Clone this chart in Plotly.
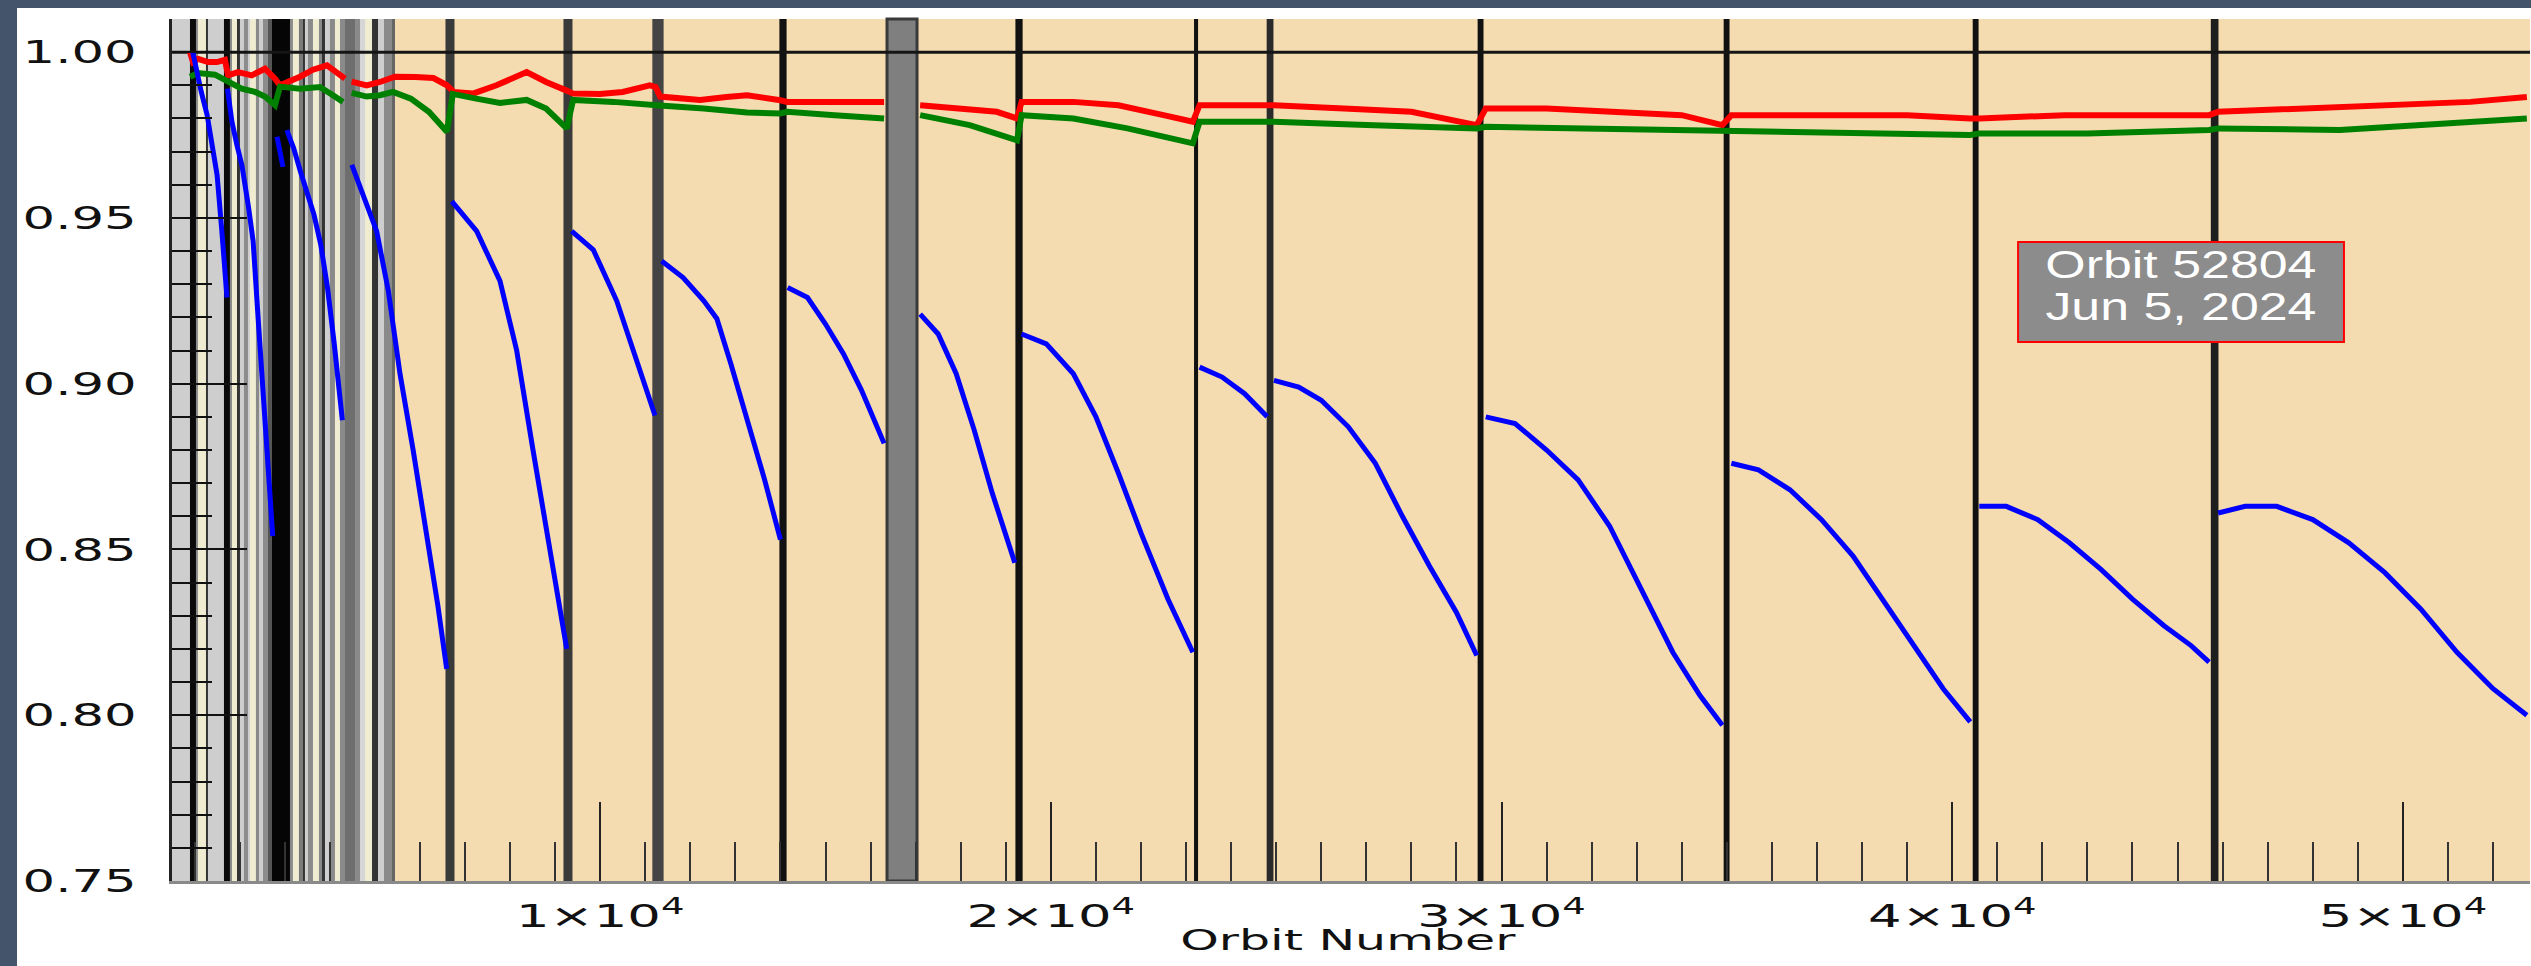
import plotly.graph_objects as go

# ---------------- data ----------------
red_orbit = [900, 965, 1076, 1300, 1500, 1675, 1742, 1964, 2268, 2563, 2785, 2896,
             3340, 3628, 3939, 4228, 4339, None, 4486, 4819, 5115, 5448, 5900, 6300,
             6600, 6750, 7177, 7700, 8370, 8800, 9258, 9400, 9990, 10500, 11100, 11230,
             11330, 12218, 12800, 13260, 14000, 14150, 15000, 15800, 16300, None,
             17100, 18000, 18800, 19250, 19350, 20500, 21500, 22500, 23150, 23300,
             24100, 24800, 24950, 26500, 28000, 29450, 29650, 31000, 32500, 34000,
             34900, 35100, 37000, 39000, 40400, 40600, 42500, 44500, 45700, 45900,
             48000, 50000, 51500, 52750]
red_value = [1.000, 0.997, 0.998, 0.997, 0.997, 0.9977, 0.993, 0.994, 0.993, 0.995, 0.992, 0.990,
             0.9926, 0.9947, 0.996, 0.9932, 0.992, None, 0.9911, 0.990, 0.991, 0.9926, 0.9925, 0.9922,
             0.990, 0.988, 0.9875, 0.990, 0.994, 0.991, 0.9884, 0.9875, 0.9874, 0.988, 0.990, 0.9895,
             0.9866, 0.9856, 0.9865, 0.987, 0.9855, 0.985, 0.985, 0.9852, 0.985, None,
             0.984, 0.983, 0.982, 0.980, 0.985, 0.985, 0.984, 0.981, 0.979, 0.984,
             0.984, 0.984, 0.984, 0.983, 0.982, 0.978, 0.983, 0.983, 0.982, 0.981,
             0.978, 0.981, 0.981, 0.981, 0.980, 0.980, 0.981, 0.981, 0.981, 0.982,
             0.983, 0.984, 0.985, 0.9865]

green_orbit = [900, 1076, 1453, 1742, 2046, 2341, 2563, 2785, 2896, 3340, 3783, 4072,
               4294, None, 4486, 4819, 5115, 5404, 5800, 6200, 6600, 6730, 7250, 7777,
               8370, 8800, 9258, 9400, 10300, 11170, 11400, 12300, 13260, 14000, 14150,
               15200, 16300, None, 17100, 18200, 19250, 19350, 20500, 21700, 23150,
               23300, 24800, 24950, 27000, 29450, 29650, 32000, 34900, 35100, 38000,
               40400, 40600, 43000, 45700, 45900, 48600, 50500, 52750]
green_value = [0.9926, 0.9937, 0.9932, 0.991, 0.989, 0.988, 0.9866, 0.984, 0.9896, 0.989, 0.9895, 0.987,
               0.985, None, 0.9877, 0.9866, 0.987, 0.988, 0.986, 0.982, 0.976, 0.9874, 0.986, 0.9847,
               0.9856, 0.983, 0.977, 0.9856, 0.985, 0.9838, 0.9838, 0.983, 0.9818, 0.9815, 0.982,
               0.981, 0.980, None, 0.981, 0.978, 0.9734, 0.981, 0.980, 0.977, 0.9725,
               0.979, 0.979, 0.979, 0.978, 0.977, 0.9775, 0.977, 0.976, 0.976, 0.9755,
               0.975, 0.9755, 0.9755, 0.9765, 0.977, 0.9765, 0.978, 0.980]

blue_orbit = [960, 1050, 1150, 1280, 1400, 1500, 1600, 1720, None,
              1730, 1830, 1940, 2050, 2200, 2300, 2400, 2550, 2735, None,
              2830, 2963, None,
              3047, 3200, 3350, 3500, 3650, 3800, 3950, 4100, 4280, None,
              4490, 4700, 5041, 5300, 5559, 5850, 6151, 6400, 6595, None,
              6710, 7260, 7777, 8148, 8510, 8887, 9258, None,
              9368, 9848, 10367, 10730, 11217, None,
              11365, 11840, 12300, 12590, 12900, 13250, 13650, 14000, None,
              14160, 14600, 15000, 15400, 15800, 16300, None,
              17100, 17500, 17900, 18300, 18700, 19200, None,
              19350, 19900, 20500, 21000, 21500, 22000, 22600, 23150, None,
              23300, 23800, 24300, 24800, None,
              24950, 25500, 26000, 26600, 27200, 27800, 28400, 29000, 29450, None,
              29650, 30300, 31000, 31700, 32400, 33100, 33800, 34400, 34900, None,
              35100, 35700, 36400, 37100, 37800, 38500, 39200, 39800, 40400, None,
              40600, 41200, 41900, 42600, 43300, 44000, 44700, 45300, 45700, None,
              45900, 46500, 47200, 48000, 48800, 49600, 50400, 51200, 52000, 52750]
blue_value = [1.000, 0.994, 0.988, 0.981, 0.972, 0.963, 0.947, 0.926, None,
              0.989, 0.979, 0.972, 0.966, 0.953, 0.943, 0.922, 0.892, 0.854, None,
              0.9745, 0.9654, None,
              0.9765, 0.971, 0.964, 0.958, 0.951, 0.942, 0.929, 0.912, 0.889, None,
              0.966, 0.958, 0.946, 0.928, 0.903, 0.880, 0.8555, 0.833, 0.814, None,
              0.955, 0.946, 0.931, 0.910, 0.880, 0.850, 0.820, None,
              0.946, 0.9404, 0.925, 0.910, 0.8904, None,
              0.937, 0.932, 0.925, 0.9196, 0.906, 0.890, 0.871, 0.853, None,
              0.929, 0.926, 0.918, 0.909, 0.898, 0.882, None,
              0.921, 0.915, 0.903, 0.886, 0.867, 0.846, None,
              0.915, 0.912, 0.903, 0.890, 0.873, 0.855, 0.835, 0.819, None,
              0.905, 0.902, 0.897, 0.890, None,
              0.901, 0.899, 0.895, 0.887, 0.876, 0.860, 0.845, 0.831, 0.818, None,
              0.890, 0.888, 0.880, 0.871, 0.857, 0.838, 0.819, 0.806, 0.797, None,
              0.876, 0.874, 0.868, 0.859, 0.848, 0.834, 0.820, 0.808, 0.798, None,
              0.863, 0.863, 0.859, 0.852, 0.844, 0.835, 0.827, 0.821, 0.816, None,
              0.861, 0.863, 0.863, 0.859, 0.852, 0.843, 0.832, 0.819, 0.808, 0.800]

# event markers (orbit numbers)
anneal_orbits = [6668, 9286, 11283, 14057, 19294, 23222, 24864, 29535, 34994, 40520, 45823]
safehold_start = [16365]
safehold_end = [17031]

# early-mission shaded intervals (orbit start, orbit end)
early_start = [500, 899, 1032, 1076, 1254, 1653, 1786, 1831, 1942, 2097, 2230, 2363, 2519, 2630,
               2718, 3118, 3184, 3317, 3406, 3517, 3628, 3761, 3828, 4005, 4116, 4228, 4339,
               4561, 4672, 4783, 4938, 5204, 5381]
early_end = [5448, 1032, 1076, 1254, 1298, 1786, 1831, 1942, 2008, 2186, 2363, 2430, 2630, 2718,
             3118, 3184, 3317, 3406, 3450, 3628, 3761, 3828, 3894, 4116, 4228, 4339, 4561,
             4672, 4783, 4938, 5071, 5381, 5448]

x_tickvals = [10000, 20000, 30000, 40000, 50000]
x_ticktext = ["1×10<sup>4</sup>", "2×10<sup>4</sup>", "3×10<sup>4</sup>",
              "4×10<sup>4</sup>", "5×10<sup>4</sup>"]
y_tickvals = [0.75, 0.80, 0.85, 0.90, 0.95, 1.00]
y_ticktext = ["0.75", "0.80", "0.85", "0.90", "0.95", "1.00"]

box_line1 = "Orbit 52804"
box_line2 = "Jun 5, 2024"
x_title = "Orbit Number"

# ---------------- styles ----------------
early_colors = ["#cecece", "#0a0a0a", "#8a8a8a", "#efecd2", "#333333", "#0a0a0a", "#8a8a8a",
                "#efecd2", "#333333", "#8c8c8c", "#efecd2", "#8a8a8a", "#8c8c8c", "#555555",
                "#050505", "#8a8a8a", "#efecd2", "#7a7a7a", "#333333", "#8a8a8a", "#efecd2",
                "#8a8a8a", "#333333", "#8a8a8a", "#efecd2", "#8a8a8a", "#6e6e6e", "#8a8a8a",
                "#d6d6d6", "#efecd2", "#333333", "#8a8a8a", "#666666"]
anneal_width = [200, 200, 250, 160, 160, 90, 150, 130, 130, 130, 170]
anneal_color = ["#3a3a3a", "#3a3a3a", "#444444", "#111111", "#111111", "#111111",
                "#2a2a2a", "#111111", "#111111", "#111111", "#1e1e1e"]

shapes = []
for x0, x1, c in zip(early_start, early_end, early_colors):
    shapes.append(dict(type="rect", xref="x", yref="paper", x0=x0, x1=x1, y0=0, y1=1,
                       fillcolor=c, line=dict(width=0), layer="below"))
for xo, w, c in zip(anneal_orbits, anneal_width, anneal_color):
    shapes.append(dict(type="rect", xref="x", yref="paper", x0=xo - w / 2, x1=xo + w / 2,
                       y0=0, y1=1, fillcolor=c, line=dict(width=0), layer="below"))
for s, e in zip(safehold_start, safehold_end):
    shapes.append(dict(type="rect", xref="x", yref="paper", x0=s, x1=e, y0=0, y1=1,
                       fillcolor="#7f7f7f", line=dict(color="#3a3a3a", width=3), layer="below"))
# reference line at 1.00
shapes.append(dict(type="line", xref="paper", yref="y", x0=0, x1=1, y0=1.0, y1=1.0,
                   line=dict(color="#151515", width=3), layer="below"))
# slide frame (dark border top & left)
shapes.append(dict(type="rect", xref="paper", yref="paper", x0=-0.2, x1=-0.06573,
                   y0=-0.3, y1=1.2, fillcolor="#44546a", line=dict(width=0), layer="below"))
shapes.append(dict(type="rect", xref="paper", yref="paper", x0=-0.2, x1=1.2,
                   y0=1.01276, y1=1.2, fillcolor="#44546a", line=dict(width=0), layer="below"))
# label box
shapes.append(dict(type="rect", xref="paper", yref="paper", x0=0.7829, x1=0.9211,
                   y0=0.6253, y1=0.7413, fillcolor="#8c8c8c",
                   line=dict(color="#ff0000", width=2), layer="above"))

fig = go.Figure()
fig.add_trace(go.Scatter(x=red_orbit, y=red_value, mode="lines",
                         line=dict(color="#ff0000", width=6), showlegend=False))
fig.add_trace(go.Scatter(x=green_orbit, y=green_value, mode="lines",
                         line=dict(color="#008000", width=6), showlegend=False))
fig.add_trace(go.Scatter(x=blue_orbit, y=blue_value, mode="lines",
                         line=dict(color="#0000ff", width=5), showlegend=False))

fig.update_layout(
    width=2531, height=966,
    margin=dict(l=172, r=1, t=19, b=85),
    paper_bgcolor="#ffffff",
    plot_bgcolor="#f4dcb0",
    shapes=shapes,
    font=dict(family="DejaVu Sans", color="#111111"),
    xaxis=dict(range=[500, 52820], showgrid=False, zeroline=False,
               showline=True, linecolor="#8a8a8a", linewidth=3,
               ticks="inside", ticklen=79, tickwidth=2, tickcolor="#222222",
               tickmode="array", tickvals=x_tickvals, ticktext=x_ticktext,
               tickfont=dict(family="DejaVu Sans", size=32, color="#111111"),
               ticklabelstandoff=5,
               minor=dict(ticks="inside", ticklen=39, tickwidth=2, tickcolor="#333333",
                          tickmode="linear", tick0=0, dtick=1000, showgrid=False)),
    yaxis=dict(range=[0.75, 1.0100], showgrid=False, zeroline=False,
               showline=True, linecolor="#222222", linewidth=3,
               ticks="inside", ticklen=75, tickwidth=2, tickcolor="#111111",
               tickmode="array", tickvals=y_tickvals, ticktext=y_ticktext,
               tickfont=dict(family="DejaVu Sans", size=32, color="#111111"),
               ticklabelstandoff=26,
               minor=dict(ticks="inside", ticklen=40, tickwidth=2, tickcolor="#111111",
                          tickmode="linear", tick0=0.75, dtick=0.01, showgrid=False)),
    annotations=[
        dict(text=x_title, xref="paper", yref="paper", x=0.4987, y=-0.0696,
             xanchor="center", yanchor="middle", showarrow=False,
             font=dict(family="DejaVu Sans", size=28, color="#111111")),
        dict(text=box_line1, xref="paper", yref="paper", x=0.852, y=0.715,
             xanchor="center", yanchor="middle", showarrow=False,
             font=dict(family="Liberation Sans", size=39, color="#ffffff")),
        dict(text=box_line2, xref="paper", yref="paper", x=0.852, y=0.667,
             xanchor="center", yanchor="middle", showarrow=False,
             font=dict(family="Liberation Sans", size=39, color="#ffffff")),
    ],
)

# The reference artwork was stretched horizontally; widen the glyphs to match.
post_script = """
var gd = document.querySelector('.plotly-graph-div');
function stretch(nodes, f) {
  nodes.forEach(function (t) {
    var L = t.getComputedTextLength();
    if (L > 0) {
      t.setAttribute('textLength', (L * f).toFixed(1));
      t.setAttribute('lengthAdjust', 'spacingAndGlyphs');
    }
  });
}
stretch(gd.querySelectorAll('.ytick text'), 1.6);
stretch(gd.querySelectorAll('.xtick text'), 1.65);
var facs = [1.75, 1.33, 1.33];
gd.querySelectorAll('g.annotation').forEach(function (g, i) {
  stretch(g.querySelectorAll('text.annotation-text'), facs[i] || 1);
});
"""

fig.write_html("out.html", post_script=post_script)
